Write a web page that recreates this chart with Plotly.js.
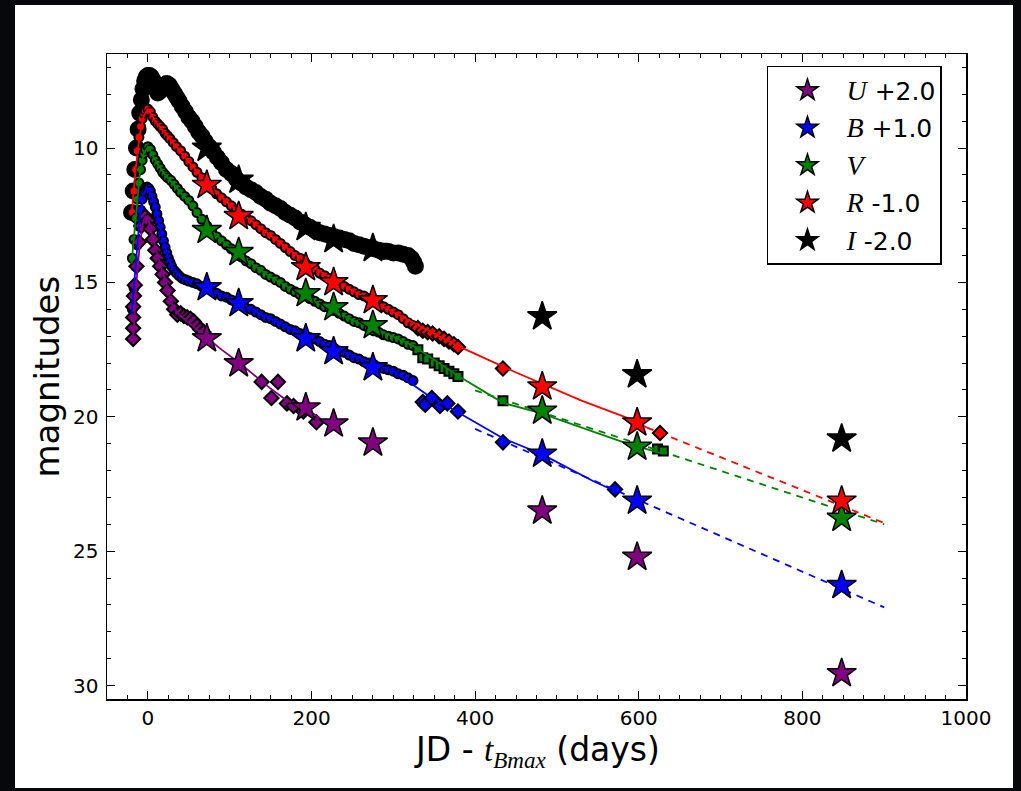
<!DOCTYPE html>
<html>
<head>
<meta charset="utf-8">
<script src="https://cdn.plot.ly/plotly-3.0.1.min.js"></script>
<style>html,body{margin:0;padding:0;background:#07080c;}#chart{width:1021px;height:791px;}</style>
</head>
<body>
<div id="chart"></div>
<script>
// ---- Photometry (days since B max, plotted magnitudes incl. offsets) ----
var iDays = [-20,-18,-16,-14,-12,-10,-8,-6,-4,-2,0,2,4,6,8,10,12,14,17,20,23,26,29,32,35,38,42,46,50,54,58,62,66,70,75,80,85,90,96,102,108,114,120,126,132,138,144,150,156,162,168,174,180,186,192,198,204,210,216,222,228,234,240,246,252,258,264,270,276,282,288,294,300,306,312,318,322,325,327];
var iMag = [12.4,11.6,10.8,10.0,9.3,8.7,8.2,7.8,7.5,7.35,7.3,7.3,7.35,7.45,7.6,7.8,7.95,7.9,7.75,7.65,7.6,7.65,7.8,7.95,8.1,8.25,8.45,8.65,8.85,9.0,9.2,9.4,9.55,9.75,9.95,10.15,10.35,10.55,10.8,10.95,11.15,11.3,11.45,11.55,11.65,11.8,11.9,12.05,12.15,12.25,12.4,12.5,12.6,12.75,12.85,12.95,13.05,13.15,13.2,13.25,13.3,13.35,13.4,13.45,13.55,13.6,13.65,13.7,13.75,13.8,13.85,13.85,13.9,13.9,13.95,14.0,14.1,14.25,14.4];

var rDays = [-19,-17,-15,-13,-11,-9,-7,-5,-3,0,3,6,9,12,15,18,21,24,27,31,35,40,45,50,55,60,66,72,78,84,90,96,102,108,114,120,126,132,138,144,150,156,162,168,174,180,186,192,198,204,210,216,222,228,234,240,246,252,258,264,270,276,282,288,294,300,306,312,318,324];
var rMag = [12.4,11.6,10.8,10.1,9.6,9.2,8.9,8.7,8.6,8.55,8.65,8.85,9.0,9.1,9.2,9.3,9.45,9.55,9.65,9.8,9.95,10.1,10.3,10.5,10.7,10.9,11.1,11.3,11.5,11.7,11.85,12.0,12.15,12.3,12.45,12.6,12.7,12.85,13.0,13.15,13.25,13.4,13.55,13.7,13.85,14.0,14.1,14.25,14.4,14.5,14.65,14.75,14.85,14.95,15.05,15.15,15.25,15.35,15.45,15.5,15.6,15.7,15.8,15.9,16.0,16.1,16.2,16.35,16.5,16.6];
var rLateDays = [330,336,342,348,356,362,368,374,379,434,626];
var rLateMag = [16.7,16.8,16.85,16.9,17.0,17.1,17.2,17.3,17.4,18.2,20.6];

var vDays = [-19,-17,-15,-13,-11,-9,-7,-5,-3,0,3,6,9,12,15,18,21,24,28,32,36,40,45,50,55,60,66,72,78,84,90,96,102,108,114,120,126,132,138,144,150,156,162,168,174,180,186,192,198,204,210,216,222,228,234,240,246,252,258,264,270,276,282,288,294,300,306,312,318,324];
var vMag = [14.1,13.4,12.6,11.9,11.3,10.8,10.45,10.2,10.05,9.95,10.05,10.25,10.45,10.6,10.75,10.9,11.0,11.1,11.2,11.35,11.5,11.65,11.8,11.95,12.15,12.4,12.65,12.9,13.1,13.3,13.45,13.6,13.75,13.9,14.05,14.2,14.3,14.45,14.55,14.7,14.8,14.9,15.0,15.15,15.25,15.35,15.45,15.5,15.6,15.7,15.8,15.9,15.95,16.05,16.15,16.25,16.35,16.45,16.5,16.6,16.7,16.8,16.85,16.95,17.0,17.05,17.1,17.2,17.3,17.35];
var vLateDays = [330,336,342,350,356,362,368,374,379,434,623,630];
var vLateMag = [17.5,17.8,17.85,18.0,18.1,18.2,18.3,18.4,18.5,19.4,21.2,21.27];

var bDays = [-19,-17,-15,-13,-11,-9,-7,-5,-3,-1,1,3,5,7,9,11,13,15,17,19,21,23,25,27,29,32,35,38,42,46,50,55,60,66,72,78,84,90,96,102,108,114,120,126,132,138,144,150,156,162,168,174,180,186,192,198,204,210,216,222,228,234,240,246,252,258,264,270,276,282,288,294,300,306,312,318,324];
var bMag = [16.0,15.2,14.4,13.6,12.9,12.3,11.9,11.6,11.5,11.45,11.5,11.6,11.8,12.0,12.2,12.45,12.7,12.95,13.2,13.45,13.7,13.9,14.1,14.25,14.4,14.55,14.65,14.75,14.85,14.9,14.95,15.0,15.05,15.15,15.2,15.3,15.4,15.5,15.55,15.65,15.75,15.85,15.95,16.0,16.1,16.2,16.3,16.35,16.45,16.55,16.65,16.75,16.8,16.9,16.95,17.05,17.1,17.2,17.3,17.35,17.45,17.55,17.6,17.7,17.8,17.85,17.95,18.0,18.05,18.15,18.2,18.25,18.3,18.4,18.45,18.55,18.65];
var bLateDays = [336,339,347,357,366,379,434,571];
var bLateMag = [19.45,19.55,19.3,19.6,19.5,19.8,20.95,22.7];

var uDays = [-18,-18,-18,-18,-17,-16,-14,-11,-8,-5,-3,0,3,6,9,12,15,18,21,24,28,32,36,40,44,48,52,56,60,64,68,139,151,159,170,178,190,206];
var uMag = [17.1,16.7,16.3,15.9,15.5,15.1,14.4,13.5,12.9,12.6,12.55,12.7,13.0,13.4,13.8,14.1,14.4,14.7,15.0,15.3,15.7,16.0,16.2,16.15,16.25,16.3,16.35,16.45,16.6,16.75,16.85,18.7,19.3,18.7,19.5,19.6,19.8,20.2];

// ---- Fitted curves ----
var uFitDays = [-18,-14,-10,-6,-3,0,4,8,12,16,20,25,30,35,40,50,60,72,90,112,130,150,170,194,210];
var uFitMag = [17.1,15.0,13.6,12.8,12.55,12.6,13.1,13.6,14.0,14.45,14.8,15.35,15.85,16.1,16.25,16.5,16.75,17.05,17.5,18.0,18.45,18.95,19.4,19.7,20.05];
var bFitDays = [-20,-15,-10,-5,-1,5,10,15,20,25,30,40,50,72,100,150,200,250,300,340,380,434,482,544,571];
var bFitMag = [16.2,14.3,12.6,11.7,11.45,11.8,12.3,12.95,13.55,14.1,14.45,14.8,14.95,15.2,15.6,16.35,17.1,17.7,18.3,19.15,19.85,20.8,21.4,22.39,22.76];
var vFitDays = [-20,-15,-10,-5,0,10,20,40,72,100,150,200,250,284,324,379,434,479,530,586,626];
var vFitMag = [14.3,12.6,11.0,10.2,9.95,10.5,10.95,11.65,12.9,13.7,14.8,15.65,16.4,16.8,17.35,18.47,19.48,19.85,20.4,21.0,21.34];
var rFitDays = [-20,-15,-10,-5,0,10,20,40,72,100,150,200,250,300,350,378,450,479,530,586,610];
var rFitMag = [12.5,10.8,9.5,8.8,8.55,9.05,9.4,10.15,11.3,12.1,13.25,14.4,15.3,16.1,16.9,17.35,18.35,18.73,19.4,20.04,20.4];

// ---- Extrapolations ----
var bExtDays = [400, 900];
var bExtMag = [20.45, 27.09];
var vExtDays = [400, 900];
var vExtMag = [19.02, 24.0];
var rExtDays = [610, 900];
var rExtMag = [20.4, 23.95];

// ---- Star epochs ----
var starDays = [72, 111, 193, 227, 275, 482, 598, 848];
var starU = [17.09, 18.02, 19.66, 20.26, 20.97, 23.5, 25.22, 29.55];
var starB = [15.19, 15.78, 17.09, 17.57, 18.17, 21.38, 23.13, 26.27];
var starV = [13.06, 13.88, 15.41, 15.93, 16.6, 19.78, 21.12, 23.77];
var starR = [11.38, 12.54, 14.44, 15.0, 15.67, 18.88, 20.22, 23.13];
var starI = [10.0, 11.19, 12.95, 13.4, 13.73, 16.27, 18.43, 20.82];

function mathLetter(l) {
  return '<span style="font-family:\'Liberation Serif\';font-size:28px"><i>' + l + '</i></span>';
}
var bandLabels = [mathLetter('U') + ' +2.0', mathLetter('B') + ' +1.0', mathLetter('V'),
                  mathLetter('R') + ' -1.0', mathLetter('I') + ' -2.0'];
var colU = '#800080', colB = '#0000ff', colV = '#008000', colR = '#ff0000', colI = '#000000';

function pts(x, y, c, sym, sz) {
  return {x: x, y: y, type: 'scatter', mode: 'markers', showlegend: false, hoverinfo: 'skip',
    marker: {color: c, symbol: sym, size: sz, line: {color: 'black', width: 2}}};
}
function ln(x, y, c, dash, w) {
  return {x: x, y: y, type: 'scatter', mode: 'lines', showlegend: false, hoverinfo: 'skip',
    line: {color: c, width: w, dash: dash}};
}
function stars(y, c, name) {
  return {x: starDays, y: y, type: 'scatter', mode: 'markers', name: name, legendgroup: name,
    showlegend: true, marker: {color: c, symbol: 'star', size: 22, line: {color: 'black', width: 1.5}}};
}

var data = [
  pts(iDays, iMag, colI, 'circle', 15),
  pts(rDays, rMag, colR, 'circle', 9),
  pts(rLateDays, rLateMag, colR, 'diamond', 11),
  pts(vDays, vMag, colV, 'circle', 9),
  pts(vLateDays, vLateMag, colV, 'square', 9),
  pts(bDays, bMag, colB, 'circle', 9),
  pts(bLateDays, bLateMag, colB, 'diamond', 11),
  pts(uDays, uMag, colU, 'diamond', 11),
  ln(rFitDays, rFitMag, colR, 'solid', 1.8),
  ln(vFitDays, vFitMag, colV, 'solid', 1.8),
  ln(bFitDays, bFitMag, colB, 'solid', 1.8),
  ln(uFitDays, uFitMag, colU, 'solid', 1.8),
  ln(rExtDays, rExtMag, colR, '7px,6px', 1.8),
  ln(vExtDays, vExtMag, colV, '7px,6px', 1.8),
  ln(bExtDays, bExtMag, colB, '7px,6px', 1.8),
  stars(starU, colU, bandLabels[0]),
  stars(starB, colB, bandLabels[1]),
  stars(starV, colV, bandLabels[2]),
  stars(starR, colR, bandLabels[3]),
  stars(starI, colI, bandLabels[4])
];

var axisCommon = {
  showgrid: false, zeroline: false, showline: true, linecolor: 'black', linewidth: 1.5,
  mirror: 'allticks', ticks: 'inside', ticklen: 8, tickwidth: 1, tickcolor: 'black',
  tickfont: {family: 'DejaVu Sans', size: 20, color: 'black'}
};

var layout = {
  width: 1021, height: 791,
  margin: {l: 107, r: 55, t: 54, b: 92},
  paper_bgcolor: '#07080c',
  plot_bgcolor: 'white',
  font: {family: 'DejaVu Sans', color: 'black'},
  xaxis: Object.assign({}, axisCommon, {
    range: [-50, 1000], tick0: 0, dtick: 200, ticklabelstandoff: 0,
    minor: {ticks: 'inside', dtick: 25, tick0: 0, ticklen: 4, tickcolor: 'black', tickwidth: 1, showgrid: false}
  }),
  yaxis: Object.assign({}, axisCommon, {
    range: [30.5, 6.5], tick0: 0, dtick: 5, ticklabelstandoff: 3,
    minor: {ticks: 'inside', dtick: 1, tick0: 0, ticklen: 4, tickcolor: 'black', tickwidth: 1, showgrid: false}
  }),
  legend: {
    x: 0.7683, y: 0.9814, xanchor: 'left', yanchor: 'top',
    bgcolor: 'white', bordercolor: 'black', borderwidth: 1.5,
    font: {family: 'DejaVu Sans', size: 25, color: 'black'},
    traceorder: 'grouped', tracegroupgap: 2, itemwidth: 68
  },
  shapes: [{
    type: 'rect', xref: 'paper', yref: 'paper', layer: 'below',
    x0: -0.1071, x1: 1.0547, y0: -0.138, y1: 1.076,
    fillcolor: 'white', line: {width: 0}
  }],
  annotations: [
    {text: 'magnitudes', xref: 'paper', yref: 'paper', x: -0.071, y: 0.5,
     xanchor: 'center', yanchor: 'middle', textangle: -90, showarrow: false,
     font: {family: 'DejaVu Sans', size: 34, color: 'black'}},
    {text: 'JD - <span style="font-family:\'Liberation Serif\'"><i>t</i><sub><i>Bmax</i></sub></span> (days)',
     xref: 'paper', yref: 'paper', x: 0.5, y: -0.081, xanchor: 'center', yanchor: 'middle',
     borderpad: 0, showarrow: false, font: {family: 'DejaVu Sans', size: 33, color: 'black'}}
  ]
};

Plotly.newPlot('chart', data, layout, {displayModeBar: false, staticPlot: true});
</script>
</body>
</html>
